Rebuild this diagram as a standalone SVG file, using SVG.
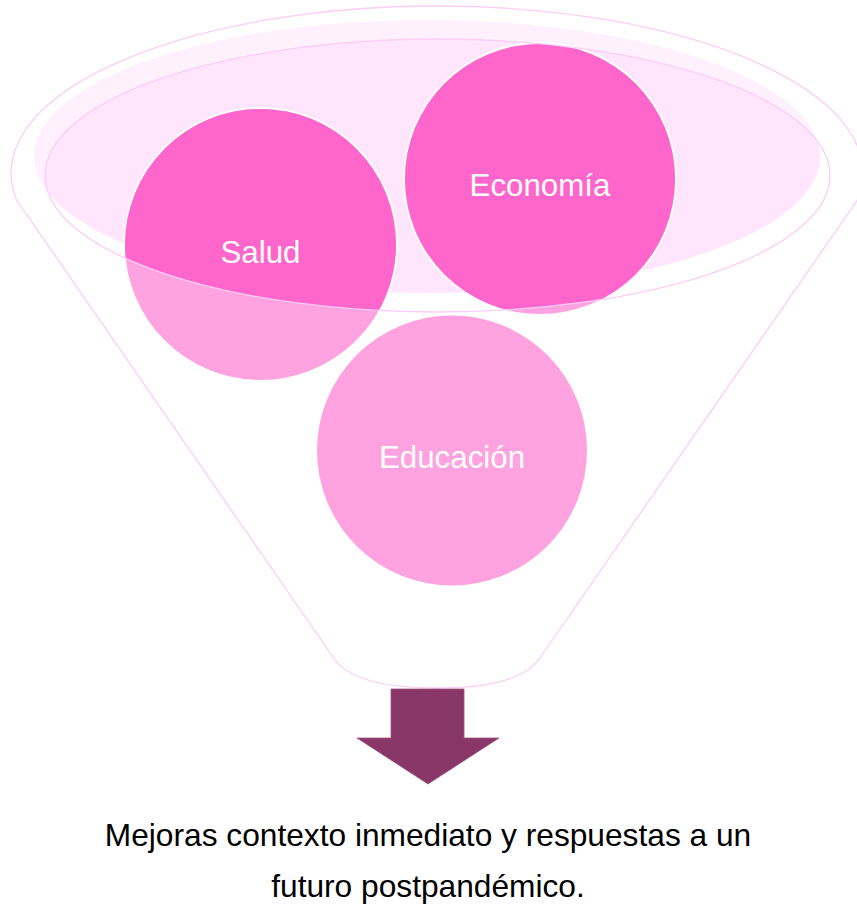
<svg xmlns="http://www.w3.org/2000/svg" width="857" height="911" viewBox="0 0 857 911">
<style>
.outline{fill:none;stroke:#FBCDF7;stroke-width:1.3}
.circ{stroke:#FFFFFF;stroke-width:2}
.light{fill:#FFA3E0}
.dark{fill:#FF66CC}
.lbl{font-family:"Liberation Sans",Arial,sans-serif;font-size:31.3px;fill:#FFFFFF;text-anchor:middle}
.cap{font-family:"Liberation Sans",Arial,sans-serif;font-size:31.7px;fill:#000000;text-anchor:middle}
</style>
<defs>
<clipPath id="rimClip"><ellipse cx="437.5" cy="175.5" rx="392.5" ry="136.5"/></clipPath>
</defs>
<rect width="857" height="911" fill="#FFFFFF"/>
<g id="funnel">
<path class="outline" d="M16.6,200 A426,167 0 1 1 857.4,200 L542,655 C525,684 475,688 437,688 C399,688 350,684 333,657 Z"/>
<ellipse cx="427" cy="156.5" rx="393" ry="136.5" fill="#FFF0FD"/>
<ellipse cx="427" cy="156.5" rx="393" ry="136.5" fill="#FFE6FC" clip-path="url(#rimClip)"/>
</g>
<g id="salud">
<circle class="circ light" cx="260.5" cy="244.5" r="136.5"/>
<circle class="dark" cx="260.5" cy="244.5" r="135.5" clip-path="url(#rimClip)"/>
</g>
<g id="economia">
<circle class="circ light" cx="540" cy="179" r="136"/>
<circle class="dark" cx="540" cy="179" r="135" clip-path="url(#rimClip)"/>
</g>
<g id="educacion">
<circle class="circ light" cx="452" cy="450.5" r="136"/>
</g>
<g id="rim">
<ellipse class="outline" cx="437.5" cy="175.5" rx="392.5" ry="136.5"/>
</g>
<g id="labels">
<text class="lbl" x="260.5" y="263">Salud</text>
<text class="lbl" x="540" y="196">Economía</text>
<text class="lbl" x="452" y="468">Educación</text>
</g>
<g id="connectors">
<path d="M391,689 L464,689 L464,738 L499,738 L428,784 L357,738 L391,738 Z" fill="#893769" stroke="#9C5383" stroke-width="0.8"/>
</g>
<g id="result">
<text class="cap" x="428" y="846">Mejoras contexto inmediato y respuestas a un</text>
<text class="cap" x="428" y="897">futuro postpandémico.</text>
</g>
</svg>
